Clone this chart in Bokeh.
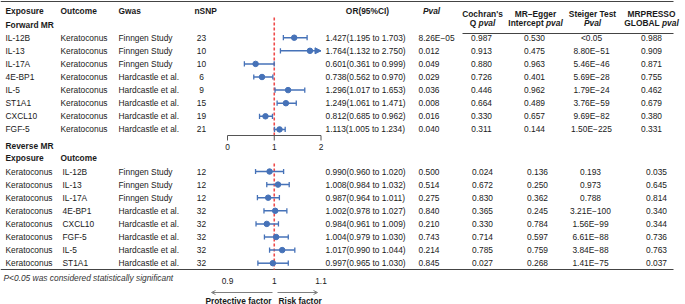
from bokeh.plotting import figure
from bokeh.models import ColumnDataSource, Range1d, Arrow, NormalHead, OpenHead
from bokeh.core.properties import value
from bokeh.embed import file_html
from bokeh.resources import INLINE

# ---------------- data ----------------
fwd_exposure = ["IL-12B", "IL-13", "IL-17A", "4E-BP1", "IL-5", "ST1A1", "CXCL10", "FGF-5"]
fwd_outcome = ["Keratoconus"] * 8
fwd_gwas = ["Finngen Study", "Finngen Study", "Finngen Study", "Hardcastle et al.",
            "Hardcastle et al.", "Hardcastle et al.", "Hardcastle et al.", "Hardcastle et al."]
fwd_nsnp = [23, 10, 10, 6, 9, 15, 19, 21]
fwd_or = [1.427, 1.764, 0.601, 0.738, 1.296, 1.249, 0.812, 1.113]
fwd_lo = [1.195, 1.132, 0.361, 0.562, 1.017, 1.061, 0.685, 1.005]
fwd_hi = [1.703, 2.750, 0.999, 0.970, 1.653, 1.471, 0.962, 1.234]
fwd_pval = ["8.26E\u221205", "0.012", "0.049", "0.029", "0.036", "0.008", "0.016", "0.040"]
fwd_cochran = ["0.987", "0.913", "0.880", "0.726", "0.446", "0.664", "0.330", "0.311"]
fwd_egger = ["0.530", "0.475", "0.963", "0.401", "0.962", "0.489", "0.657", "0.144"]
fwd_steiger = ["<0.05", "8.80E\u221251", "5.46E\u221246", "5.69E\u221228", "1.79E\u221224",
               "3.76E\u221259", "9.69E\u221282", "1.50E\u2212225"]
fwd_presso = ["0.988", "0.909", "0.871", "0.755", "0.462", "0.679", "0.380", "0.331"]

rev_exposure = ["Keratoconus"] * 8
rev_outcome = ["IL-12B", "IL-13", "IL-17A", "4E-BP1", "CXCL10", "FGF-5", "IL-5", "ST1A1"]
rev_gwas = ["Finngen Study", "Finngen Study", "Finngen Study", "Hardcastle et al.",
            "Hardcastle et al.", "Hardcastle et al.", "Hardcastle et al.", "Hardcastle et al."]
rev_nsnp = [12, 12, 12, 32, 32, 32, 32, 32]
rev_or = [0.990, 1.008, 0.987, 1.002, 0.984, 1.004, 1.017, 0.997]
rev_lo = [0.960, 0.984, 0.964, 0.978, 0.961, 0.979, 0.990, 0.965]
rev_hi = [1.020, 1.032, 1.011, 1.027, 1.009, 1.030, 1.044, 1.030]
rev_pval = ["0.500", "0.514", "0.275", "0.840", "0.210", "0.743", "0.214", "0.845"]
rev_cochran = ["0.024", "0.672", "0.830", "0.365", "0.330", "0.714", "0.785", "0.027"]
rev_egger = ["0.136", "0.250", "0.362", "0.245", "0.784", "0.597", "0.759", "0.268"]
rev_steiger = ["0.193", "0.973", "0.788", "3.21E\u2212100", "1.56E\u221299", "6.61E\u221288",
               "3.84E\u221288", "1.41E\u221275"]
rev_presso = ["0.035", "0.645", "0.814", "0.340", "0.344", "0.736", "0.763", "0.037"]

fwd_ticks = [0, 1, 2]
fwd_tick_labels = ["0", "1", "2"]
rev_ticks = [0.9, 1.0, 1.1]
rev_tick_labels = ["0.9", "1", "1.1"]
null_value = 1.0

# ---------------- layout / style ----------------
W, H = 685, 304
FONT = value("Liberation Sans")
FS = "8.4px"
TXT = "#1a1a1a"
BLUE = "#4672b8"
RED = "#ee4b4b"
GRAY = "#7f7f7f"

px0, px2 = 227.0, 320.5            # pixel of forest scale ends
fwd_scale = (px2 - px0) / 2.0
rev_scale = (px2 - px0) / 0.2

p = figure(width=W, height=H, output_backend="svg", toolbar_location=None,
           x_range=Range1d(0, W), y_range=Range1d(H, 0),
           x_axis_location=None, y_axis_location=None, min_border=0)
p.grid.visible = False
p.outline_line_color = None
p.background_fill_color = "white"
p.border_fill_color = "white"
p.extra_x_ranges = {
    "fwd": Range1d(0 - px0 / fwd_scale, (W - px0) / fwd_scale),
    "rev": Range1d(0.9 - px0 / rev_scale, 0.9 + (W - px0) / rev_scale),
}


def txt(x, y, t, align="left", style="normal", color=TXT, size=FS, xr="default"):
    src = ColumnDataSource(dict(x=x, y=y, t=t))
    p.text(x="x", y="y", text="t", source=src, text_font=FONT, text_font_size=size,
           text_align=align, text_baseline="middle", text_color=color,
           text_font_style=style, x_range_name=xr)


# Arial Bold advance widths (em) for split headers
BW = {"Q": .778, " ": .278, "I": .278, "n": .611, "t": .333, "e": .556, "r": .389,
      "c": .556, "p": .611, "G": .778, "L": .611, "O": .778, "B": .722, "A": .722,
      "v": .556, "a": .556, "l": .278}
FSN = 8.4


def width(s):
    return sum(BW.get(ch, .6) for ch in s) * FSN


def split_header(cx, y, a, b):
    tot = width(a) + width(b)
    sx = cx - tot / 2 + width(a)
    txt([sx], [y], [a], align="right", style="bold")
    txt([sx], [y], [b], align="left", style="bold italic")


# ---- table rules ----
p.segment(x0=[0, 462, 0], y0=[1, 33, 269], x1=[673, 673, 673], y1=[1, 33, 269],
          line_color="#444444", line_width=1)

# ---- headers ----
hy = 10
txt([5, 60, 118, 194], [hy] * 4, ["Exposure", "Outcome", "Gwas", "nSNP"], style="bold")
txt([367], [hy], ["OR(95%CI)"], align="center", style="bold")
txt([431], [hy], ["Pval"], align="center", style="bold italic")
txt([482, 535, 592, 651], [13] * 4, ["Cochran's", "MR\u2013Egger", "Steiger Test", "MRPRESSO"],
    align="center", style="bold")
split_header(482, 22.5, "Q ", "pval")
split_header(535, 22.5, "Intercept ", "pval")
txt([592], [22.5], ["Pval"], align="center", style="bold italic")
split_header(651, 22.5, "GLOBAL ", "pval")

txt([5], [24], ["Forward MR"], style="bold")
txt([5], [145], ["Reverse MR"], style="bold")
txt([5, 60], [157, 157], ["Exposure", "Outcome"], style="bold")

# ---- rows ----
step = 13.1
fy = [37.2 + i * step for i in range(8)]
ry = [171.0 + i * step for i in range(8)]

txt([5] * 8, fy, fwd_exposure)
txt([60] * 8, fy, fwd_outcome)
txt([118] * 8, fy, fwd_gwas)
txt([201] * 8, fy, [str(n) for n in fwd_nsnp], align="center")
txt([325] * 8, fy, [f"{o:.3f}({l:.3f} to {h:.3f})" for o, l, h in zip(fwd_or, fwd_lo, fwd_hi)])
txt([418] * 8, fy, fwd_pval)
txt([481] * 8, fy, fwd_cochran, align="center")
txt([534] * 8, fy, fwd_egger, align="center")
txt([591] * 8, fy, fwd_steiger, align="center")
txt([651] * 8, fy, fwd_presso, align="center")

txt([5] * 8, ry, rev_exposure)
txt([62] * 8, ry, rev_outcome)
txt([118] * 8, ry, rev_gwas)
txt([201] * 8, ry, [str(n) for n in rev_nsnp], align="center")
txt([325] * 8, ry, [f"{o:.3f}({l:.3f} to {h:.3f})" for o, l, h in zip(rev_or, rev_lo, rev_hi)])
txt([418] * 8, ry, rev_pval)
txt([482] * 8, ry, rev_cochran, align="center")
txt([537] * 8, ry, rev_egger, align="center")
txt([590] * 8, ry, rev_steiger, align="center")
txt([656] * 8, ry, rev_presso, align="center")

# ---- forest: forward ----
fmax = fwd_ticks[-1]
hi_clip = [min(h, fmax) for h in fwd_hi]
p.segment(x0=[null_value, null_value], y0=[17, 163], x1=[null_value, null_value], y1=[135, 269],
          line_color=RED, line_width=1.6, line_dash="3 2", x_range_name="fwd")
p.segment(x0=fwd_lo, y0=fy, x1=hi_clip, y1=fy, line_color=BLUE, line_width=1.5, x_range_name="fwd")
cap = 2.6
p.segment(x0=fwd_lo, y0=[y - cap for y in fy], x1=fwd_lo, y1=[y + cap for y in fy],
          line_color=BLUE, line_width=1.3, x_range_name="fwd")
cx = [h for h, raw in zip(hi_clip, fwd_hi) if raw <= fmax]
cy = [y for y, raw in zip(fy, fwd_hi) if raw <= fmax]
p.segment(x0=cx, y0=[y - cap for y in cy], x1=cx, y1=[y + cap for y in cy],
          line_color=BLUE, line_width=1.3, x_range_name="fwd")
for h, raw, y in zip(hi_clip, fwd_hi, fy):
    if raw > fmax:
        p.add_layout(Arrow(end=NormalHead(size=6, fill_color=BLUE, line_color=BLUE),
                           x_start=h - 0.1, y_start=y, x_end=h, y_end=y,
                           line_color=BLUE, line_width=1.5, x_range_name="fwd"))
p.scatter(x=fwd_or, y=fy, size=5.5, color=BLUE, x_range_name="fwd")

# forward axis
p.segment(x0=[fwd_ticks[0]], y0=[135], x1=[fwd_ticks[-1]], y1=[135],
          line_color="#555555", line_width=1, x_range_name="fwd")
p.segment(x0=fwd_ticks, y0=[135] * 3, x1=fwd_ticks, y1=[140] * 3,
          line_color="#555555", line_width=1, x_range_name="fwd")
txt(fwd_ticks, [146] * 3, fwd_tick_labels, align="center", xr="fwd")

# ---- forest: reverse ----
p.segment(x0=rev_lo, y0=ry, x1=rev_hi, y1=ry, line_color=BLUE, line_width=1.5, x_range_name="rev")
p.segment(x0=rev_lo, y0=[y - cap for y in ry], x1=rev_lo, y1=[y + cap for y in ry],
          line_color=BLUE, line_width=1.3, x_range_name="rev")
p.segment(x0=rev_hi, y0=[y - cap for y in ry], x1=rev_hi, y1=[y + cap for y in ry],
          line_color=BLUE, line_width=1.3, x_range_name="rev")
p.scatter(x=rev_or, y=ry, size=5.5, color=BLUE, x_range_name="rev")
txt(rev_ticks, [280] * 3, rev_tick_labels, align="center", xr="rev")

# footnote
txt([3], [277], ["P<0.05 was considered statistically significant"], style="italic", color="#333333")

# direction arrows
p.add_layout(Arrow(end=OpenHead(size=4, line_color=GRAY, line_width=1), x_start=272, y_start=292,
                   x_end=211, y_end=292, line_color=GRAY, line_width=1))
p.add_layout(Arrow(end=OpenHead(size=4, line_color=GRAY, line_width=1), x_start=277, y_start=292,
                   x_end=317, y_end=292, line_color=GRAY, line_width=1))
txt([271], [300], ["Protective factor"], align="right", style="bold")
txt([278], [300], ["Risk factor"], align="left", style="bold")

open("out.html", "w").write(file_html(p, INLINE))
